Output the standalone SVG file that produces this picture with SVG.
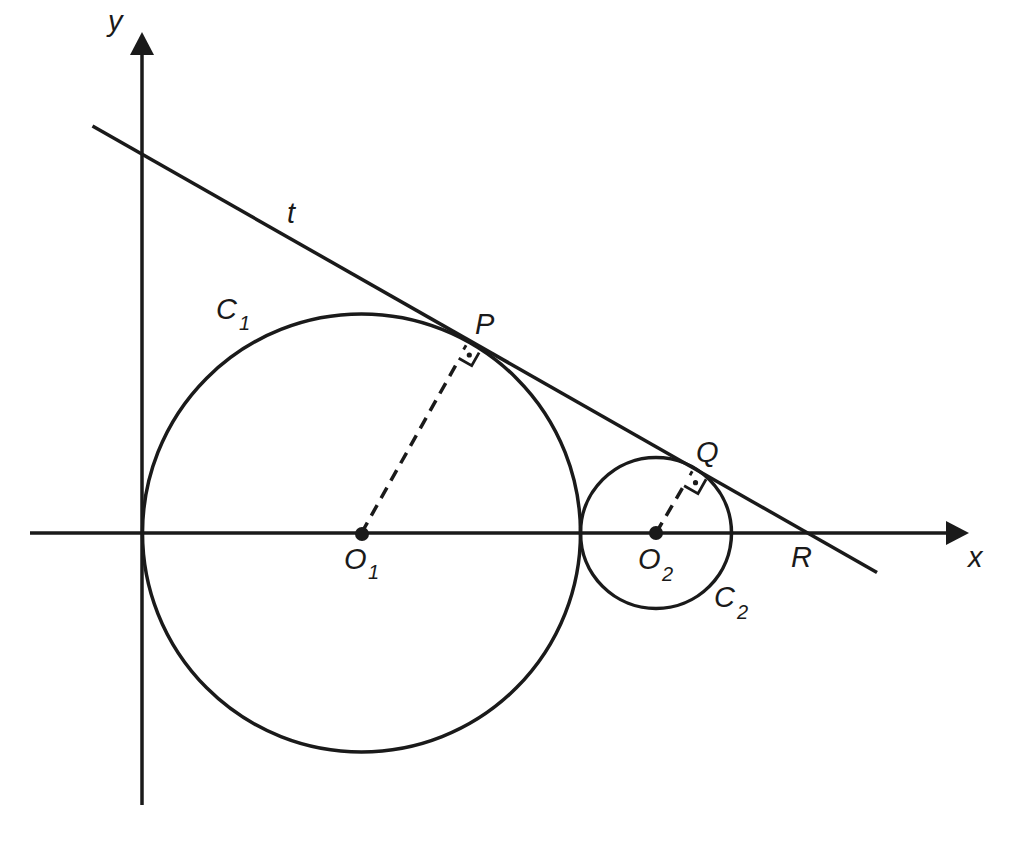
<svg xmlns="http://www.w3.org/2000/svg" width="1030" height="843" viewBox="0 0 1030 843">
<style>
.ln{stroke:#1a1a1a;stroke-width:3.5;fill:none;stroke-linecap:butt}
.mk{stroke:#1a1a1a;stroke-width:2.8;fill:none}
.ds{stroke:#1a1a1a;stroke-width:3.5;fill:none;stroke-dasharray:12 8}
.lb{font-family:"Liberation Sans",Arial,sans-serif;font-style:italic;font-size:29px;fill:#1a1a1a}
.sb{font-family:"Liberation Sans",Arial,sans-serif;font-style:italic;font-size:20px;fill:#1a1a1a}
.dt{fill:#1a1a1a}
</style>
<rect width="1030" height="843" fill="#ffffff"/>
<g id="axes">
  <line class="ln" x1="30" y1="533" x2="948" y2="533"/>
  <polygon class="dt" points="969,533 946,521 946,545"/>
  <line class="ln" x1="142" y1="805" x2="142" y2="53"/>
  <polygon class="dt" points="142,32 130,55 154,55"/>
  <text class="lb" x="968" y="567">x</text>
  <text class="lb" x="108" y="31">y</text>
</g>
<g id="C1">
  <circle class="ln" cx="361.5" cy="533" r="219"/>
  <text class="lb" x="216" y="319">C</text><text class="sb" x="239" y="330">1</text>
</g>
<g id="C2">
  <circle class="ln" cx="656" cy="533" r="75.5"/>
  <text class="lb" x="714" y="607">C</text><text class="sb" x="737" y="619">2</text>
</g>
<g id="tangent">
  <line class="ln" x1="92.5" y1="126" x2="877" y2="572.5"/>
  <text class="lb" x="287" y="223">t</text>
</g>
<g id="connectors">
  <line class="ds" x1="361.5" y1="533" x2="459.5" y2="358.5"/>
  <line class="ds" x1="656" y1="533" x2="684" y2="485.5"/>
</g>
<g id="P">
  <polyline class="mk" points="458.7,358.2 471.7,365.6 479.1,352.6"/>
  <line class="mk" x1="466.1" y1="345.2" x2="463.6" y2="349.5"/>
  <circle class="dt" cx="469.3" cy="355" r="2.6"/>
  <text class="lb" x="475" y="334">P</text>
</g>
<g id="Q">
  <polyline class="mk" points="684.1,485.7 698,493.6 706.1,479.3"/>
  <line class="mk" x1="692.2" y1="471.3" x2="690" y2="475.2"/>
  <circle class="dt" cx="695.5" cy="482.7" r="2.6"/>
  <text class="lb" x="696" y="462">Q</text>
</g>
<g id="O1">
  <circle class="dt" cx="362" cy="534" r="7"/>
  <text class="lb" x="344" y="569">O</text><text class="sb" x="368" y="579">1</text>
</g>
<g id="O2">
  <circle class="dt" cx="656" cy="533" r="7"/>
  <text class="lb" x="638" y="569">O</text><text class="sb" x="662" y="581">2</text>
</g>
<g id="R">
  <text class="lb" x="791" y="567">R</text>
</g>
</svg>
